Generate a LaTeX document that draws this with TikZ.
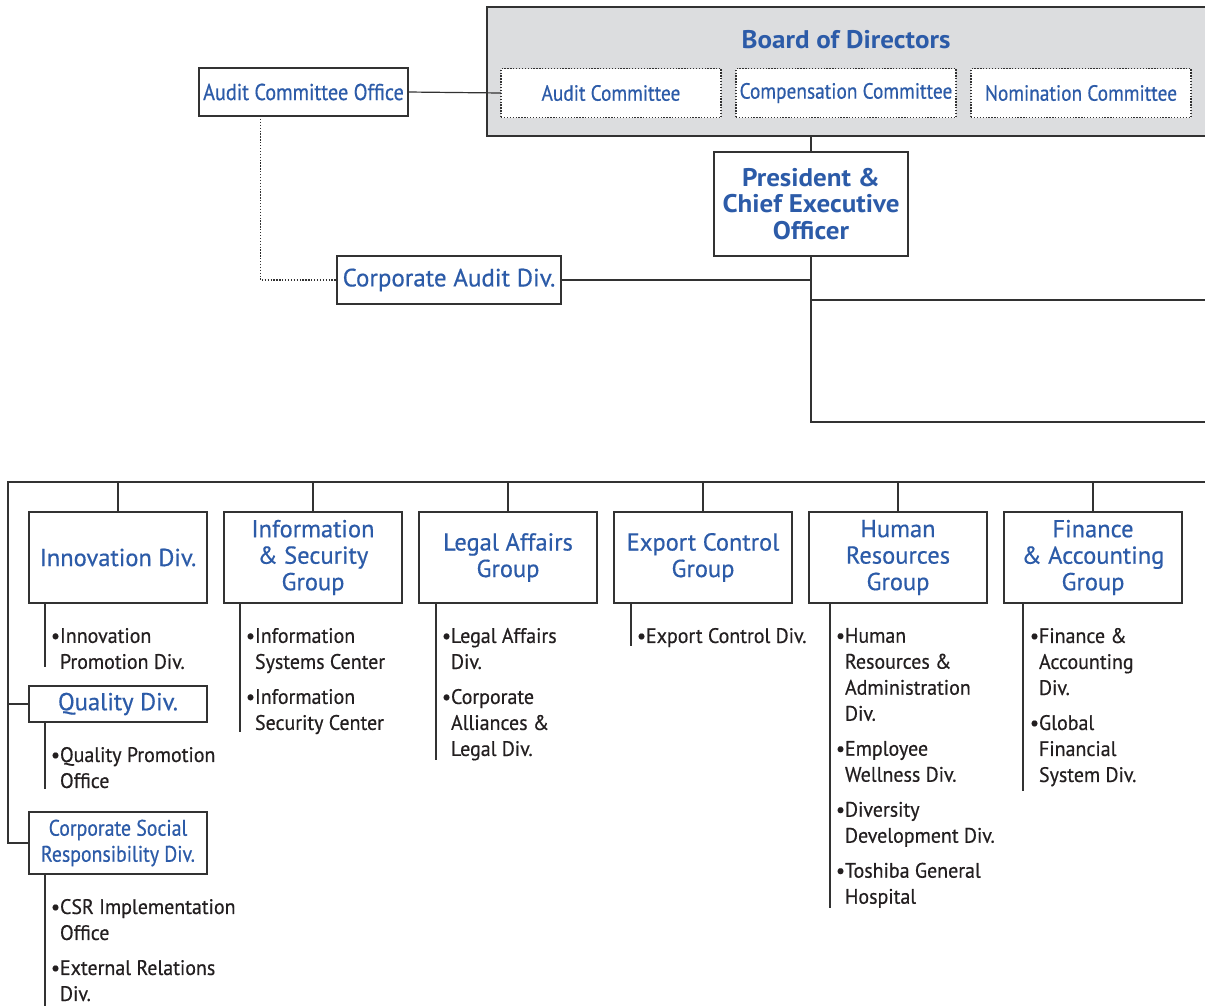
\documentclass[tikz,border=0pt]{standalone}
\usepackage{fontspec}
\setmainfont{PT Sans}[FakeBold=0.5]
\newfontfamily\narrowfont[FakeStretch=0.88,FakeBold=0.5]{PT Sans}
\newfontfamily\listfont[FakeStretch=0.95,FakeBold=0.5]{PT Sans}
\newfontfamily\headbold[FakeStretch=1.06]{PT Sans Bold}
\usetikzlibrary{positioning}

\definecolor{orgblue}{RGB}{44,91,168}
\definecolor{boardgray}{RGB}{220,221,223}
\definecolor{wiregray}{RGB}{50,50,50}
\definecolor{itemblack}{RGB}{35,31,32}
\newcommand{\indt}{\hphantom{•}}

\begin{document}
\begin{tikzpicture}[x=1pt,y=-1pt]
\tikzstyle{every node}=[inner sep=0pt, outer sep=0pt]
\tikzstyle{wire}=[draw=wiregray, line width=1.2pt]
\tikzstyle{unit}=[draw=wiregray, line width=1.2pt, fill=white, text=orgblue, align=center]
\tikzstyle{group}=[unit, minimum width=178pt, minimum height=91pt,
	font=\fontsize{24.5}{26.5}\selectfont]
\tikzstyle{committee}=[unit, dash pattern=on 1.3pt off 1.6pt, minimum width=220pt,
	minimum height=49pt, font=\narrowfont\fontsize{22}{26}\selectfont]
\tikzstyle{items}=[anchor=north west, align=left, text=itemblack,
	font=\listfont\fontsize{21}{26}\selectfont]
\clip (0,0) rectangle (1205,1005);

% board with its committees
\node[draw=wiregray, line width=1.2pt, fill=boardgray, anchor=north west,
	minimum width=760pt, minimum height=129pt] (board) at (487,7) {};
\node[text=orgblue, font=\headbold\fontsize{25.5}{26}\selectfont] (bodtitle) at (846,40) {Board of Directors};
\node[committee] (ac) at (611,93) {Audit Committee};
\node[committee, right=15pt of ac] (cc) {Compensation Committee};
\node[committee, right=15pt of cc] (nc) {Nomination Committee};

\node[unit, minimum width=209pt, minimum height=48pt,
	font=\narrowfont\fontsize{23}{26}\selectfont] (aco) at (303.5,92) {Audit Committee Office};
\node[unit, minimum width=194pt, minimum height=104pt,
	font=\headbold\fontsize{25.5}{26.5}\selectfont] (pres) at (811,204) {President \&\\Chief Executive\\Officer};
\node[unit, minimum width=224pt, minimum height=48pt,
	font=\fontsize{25}{26}\selectfont] (cad) at (449,280) {Corporate Audit Div.};

\draw[wire] (aco.east) -- (ac.west);
\draw[wire, line width=1.4pt, dash pattern=on 1.3pt off 1.6pt] ([xshift=-43pt]aco.south) |- (cad.west);
\draw[wire] (pres.north |- board.south) -- (pres.north);
\coordinate (trunk) at (811,422);
\coordinate (eastA) at (1210,300);
\coordinate (eastB) at (1210,422);
\draw[wire] (pres.south) -- (trunk) -- (eastB);
\draw[wire] (cad.east) -- (cad.east -| pres.south);
\draw[wire] (eastA -| pres.south) -- (eastA);

% staff groups
\node[group] (innov) at (118,557.5) {Innovation Div.};
\node[group, right=17pt of innov] (info) {Information\\\& Security\\Group};
\node[group, right=17pt of info] (legal) {Legal Affairs\\Group};
\node[group, right=17pt of legal] (export) {Export Control\\Group};
\node[group, right=17pt of export] (hr) {Human\\Resources\\Group};
\node[group, right=17pt of hr] (fin) {Finance\\\& Accounting\\Group};
\node[unit, minimum width=178pt, minimum height=36pt,
	font=\fontsize{24.5}{26}\selectfont] (qual) at (118,704) {Quality Div.};
\node[unit, minimum width=178pt, minimum height=62pt,
	font=\narrowfont\fontsize{22.5}{26}\selectfont] (csr) at (118,843) {Corporate Social\\Responsibility Div.};

\coordinate (busW) at (8,482);
\coordinate (busE) at (1210,482);
\draw[wire] (busE) -- (busW) |- (csr.west);
\draw[wire] (busW |- qual.west) -- (qual.west);
\foreach \g in {innov,info,legal,export,hr,fin}
	\draw[wire] (\g.north) -- (\g.north |- busW);

% divisions under each group
\node[items] (innovlist) at (51,628) {•Innovation\\\indt Promotion Div.};
\node[items] (infolist) at (246,628) {•Information\\\indt Systems Center\\[9pt]
	•Information\\\indt Security Center};
\node[items] (legallist) at (442,628) {•Legal Affairs\\\indt Div.\\[9pt]
	•Corporate\\\indt Alliances \&\\\indt Legal Div.};
\node[items] (exportlist) at (637,628) {•Export Control Div.};
\node[items] (hrlist) at (836,628) {•Human\\\indt Resources \&\\\indt Administration\\\indt Div.\\[9pt]
	•Employee\\\indt Wellness Div.\\[9pt]
	•Diversity\\\indt Development Div.\\[9pt]
	•Toshiba General\\\indt Hospital};
\node[items] (finlist) at (1030,628) {•Finance \&\\\indt Accounting\\\indt Div.\\[9pt]
	•Global\\\indt Financial\\\indt System Div.};
\node[items] (quallist) at (51,747) {•Quality Promotion\\\indt Office};
\node[items] (csrlist) at (51,899) {•CSR Implementation\\\indt Office\\[9pt]
	•External Relations\\\indt Div.};

\draw[wire] (45,603) -- (45,667);
\draw[wire] (240,603) -- (240,732);
\draw[wire] (436,603) -- (436,760);
\draw[wire] (631,603) -- (631,646);
\draw[wire] (830,603) -- (830,908);
\draw[wire] (1023,603) -- (1023,791);
\draw[wire] (45,722) -- (45,789);
\draw[wire] (45,874) -- (45,1010);
\end{tikzpicture}
\end{document}
